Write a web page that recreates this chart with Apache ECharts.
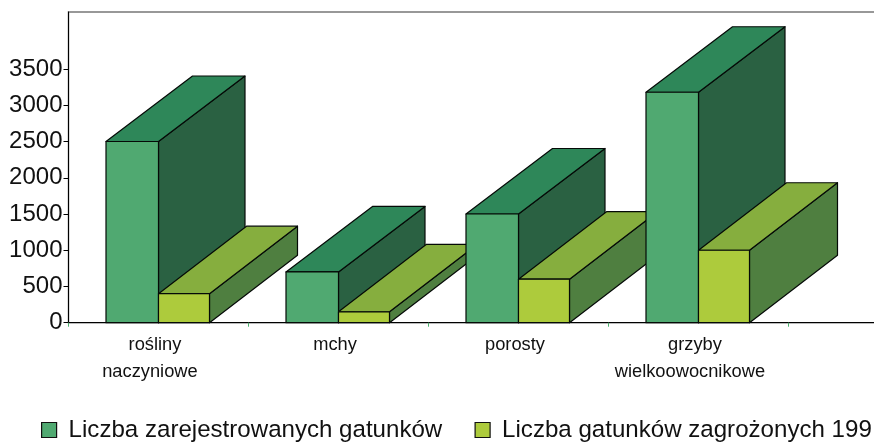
<!DOCTYPE html>
<html>
<head>
<meta charset="utf-8">
<script src="https://cdn.jsdelivr.net/npm/echarts@6/dist/echarts.min.js"></script>
<style>html,body{margin:0;padding:0;background:#fff;overflow:hidden}#c{width:874px;height:442px}</style>
</head>
<body>
<div id="c"></div>
<script>
const categories = ['rośliny\nnaczyniowe', 'mchy', 'porosty', 'grzyby\nwielkoowocnikowe', ''];
const registered = [2500, 700, 1500, 3180];
const endangered = [400, 150, 600, 1000];
const yTicks = [0, 500, 1000, 1500, 2000, 2500, 3000, 3500];
const seriesNames = ['Liczba zarejestrowanych gatunków', 'Liczba gatunków zagrożonych 199'];
const greenColors = { front: '#50A971', top: '#2E8759', side: '#2A6142', dx: 86.5, dy: 65.5 };
const limeColors = { front: '#ADCB3C', top: '#86AE3E', side: '#4F7F40', dx: 88, dy: 67.5 };

function box(api, idx, x0, x1, colors, layer) {
  const cat = api.value(0), val = api.value(1);
  const base = api.coord([cat, 0]);
  const top = api.coord([cat, val]);
  const l = base[0] + x0, r = base[0] + x1, b = base[1], t = top[1];
  const z = cat * 10 + layer;
  const DX = colors.dx, DY = colors.dy;
  const stroke = { stroke: '#050a07', lineWidth: 1.2, lineJoin: 'round' };
  const poly = (pts, fill, k) => ({
    type: 'polygon', z2: z + k, shape: { points: pts },
    style: Object.assign({ fill: fill }, stroke)
  });
  return {
    type: 'group',
    children: [
      poly([[r, t], [r + DX, t - DY], [r + DX, b - DY], [r, b]], colors.side, 0),
      poly([[l, t], [l + DX, t - DY], [r + DX, t - DY], [r, t]], colors.top, 1),
      poly([[l, t], [r, t], [r, b], [l, b]], colors.front, 2)
    ]
  };
}

const chart = echarts.init(document.getElementById('c'), null, { renderer: 'canvas' });
const legendText = { fontFamily: 'Liberation Sans', fontSize: 24.1, color: '#111', padding: [0, 0, 0, 7] };
const legendCommon = { top: 418, width: 800, padding: 0, itemWidth: 15, itemHeight: 15, itemGap: 0,
  textStyle: legendText, icon: 'rect', itemStyle: { borderColor: '#111', borderWidth: 1.2 } };
chart.setOption({
  animation: false,
  backgroundColor: '#fff',
  textStyle: { fontFamily: 'Liberation Sans' },
  grid: { left: 68.5, top: 12, width: 900, height: 310.7, show: true, borderColor: '#777', borderWidth: 1.5, backgroundColor: 'transparent', outerBoundsMode: 'none', containLabel: false },
  legend: [
    Object.assign({ data: [seriesNames[0]], left: 41 }, legendCommon),
    Object.assign({ data: [seriesNames[1]], left: 474.5 }, legendCommon)
  ],
  xAxis: {
    type: 'category', data: categories, boundaryGap: true,
    axisLine: { lineStyle: { color: '#000', width: 1 } },
    axisTick: { show: true, length: 4, lineStyle: { color: '#4CAF6F', width: 1 } },
    axisLabel: { color: '#111', fontSize: 18.3, lineHeight: 27, margin: 9, padding: [0, 7, 0, 0], interval: 0,
      formatter: v => v.includes('\n') ? v + '  ' : v },
    splitLine: { show: false }
  },
  yAxis: {
    type: 'value', min: 0, max: 4287,
    axisLine: { show: true, lineStyle: { color: '#000', width: 1 } },
    axisTick: { show: true, length: 5, customValues: yTicks, lineStyle: { color: '#000', width: 1 } },
    axisLabel: { color: '#111', fontSize: 24, margin: 6, customValues: yTicks, hideOverlap: false, formatter: v => String(v) },
    splitLine: { show: false }
  },
  series: [
    { type: 'custom', name: seriesNames[0], clip: false, itemStyle: { color: greenColors.front },
      data: registered.map((v, i) => [i, v]), encode: { x: 0, y: 1 },
      renderItem: (p, api) => box(api, p.dataIndex, -52.5, 0, greenColors, 0) },
    { type: 'custom', name: seriesNames[1], clip: false, itemStyle: { color: limeColors.front },
      data: endangered.map((v, i) => [i, v]), encode: { x: 0, y: 1 },
      renderItem: (p, api) => box(api, p.dataIndex, 0, 51, limeColors, 5) }
  ]
});
</script>
</body>
</html>
